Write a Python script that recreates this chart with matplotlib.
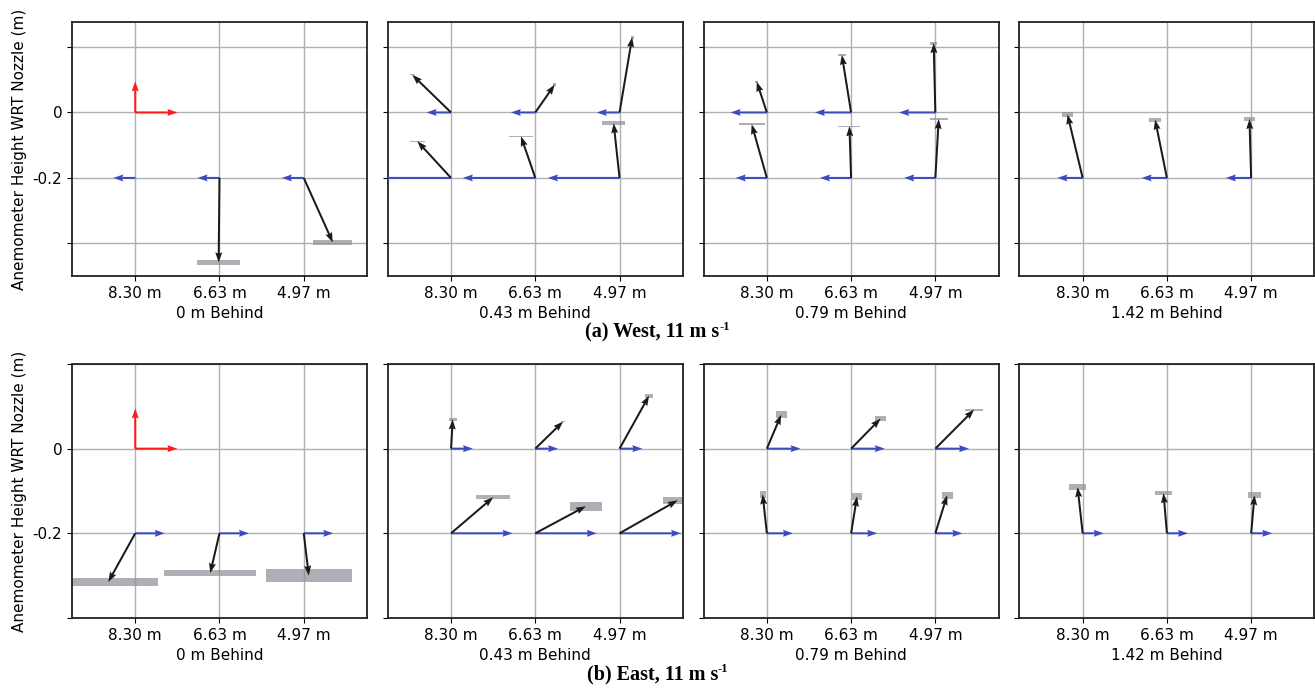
import matplotlib.pyplot as plt
import numpy as np
from matplotlib.patches import Rectangle

nan = np.nan

stations = [0, 1, 2]
station_labels = ['8.30 m', '6.63 m', '4.97 m']
behind_labels = ['0 m Behind', '0.43 m Behind', '0.79 m Behind', '1.42 m Behind']
heights = [0.0, -0.2]

# reference arrows (horizontal, vertical) drawn at the first station
ref_u, ref_w = 0.5, 0.095

# [panel][height][station]: streamwise component (blue)
west_u = [
    [[nan, nan, nan], [-0.26, -0.26, -0.26]],
    [[-0.29, -0.29, -0.27], [-0.85, -0.86, -0.85]],
    [[-0.43, -0.43, -0.43], [-0.37, -0.37, -0.37]],
    [[nan, nan, nan], [-0.30, -0.30, -0.30]],
]
# lateral/vertical vector (black)
west_vx = [
    [[nan, nan, nan], [nan, -0.01, 0.345]],
    [[-0.46, 0.23, 0.15], [-0.40, -0.17, -0.07]],
    [[-0.12, -0.11, -0.02], [-0.18, -0.02, 0.04]],
    [[nan, nan, nan], [-0.18, -0.14, -0.02]],
]
west_vy = [
    [[nan, nan, nan], [nan, -0.258, -0.197]],
    [[0.115, 0.085, 0.23], [0.112, 0.127, 0.167]],
    [[0.094, 0.176, 0.212], [0.164, 0.158, 0.18]],
    [[nan, nan, nan], [0.194, 0.178, 0.18]],
]
# spread boxes at the arrow tips (width, height)
west_ew = [
    [[nan, nan, nan], [nan, 0.51, 0.46]],
    [[0.06, 0.04, 0.04], [0.18, 0.29, 0.28]],
    [[0.04, 0.10, 0.09], [0.31, 0.26, 0.21]],
    [[nan, nan, nan], [0.14, 0.15, 0.13]],
]
west_eh = [
    [[nan, nan, nan], [nan, 0.015, 0.015]],
    [[0.004, 0.01, 0.01], [0.003, 0.005, 0.012]],
    [[0.005, 0.005, 0.009], [0.006, 0.003, 0.004]],
    [[nan, nan, nan], [0.015, 0.012, 0.012]],
]

east_u = [
    [[nan, nan, nan], [0.35, 0.35, 0.35]],
    [[0.26, 0.27, 0.27], [0.73, 0.73, 0.73]],
    [[0.40, 0.40, 0.40], [0.31, 0.31, 0.32]],
    [[nan, nan, nan], [0.25, 0.25, 0.25]],
]
east_vx = [
    [[nan, nan, nan], [-0.32, -0.11, 0.06]],
    [[0.02, 0.33, 0.35], [0.50, 0.60, 0.69]],
    [[0.17, 0.35, 0.46], [-0.05, 0.07, 0.14]],
    [[nan, nan, nan], [-0.06, -0.04, 0.04]],
]
east_vy = [
    [[nan, nan, nan], [-0.115, -0.094, -0.10]],
    [[0.069, 0.064, 0.125], [0.085, 0.064, 0.078]],
    [[0.08, 0.071, 0.092], [0.092, 0.087, 0.09]],
    [[nan, nan, nan], [0.109, 0.095, 0.09]],
]
east_ew = [
    [[nan, nan, nan], [1.19, 1.09, 1.02]],
    [[0.09, 0.05, 0.10], [0.40, 0.38, 0.36]],
    [[0.13, 0.13, 0.22], [0.07, 0.11, 0.13]],
    [[nan, nan, nan], [0.21, 0.20, 0.15]],
]
east_eh = [
    [[nan, nan, nan], [0.02, 0.016, 0.03]],
    [[0.008, 0.003, 0.01], [0.009, 0.022, 0.016]],
    [[0.016, 0.011, 0.005], [0.016, 0.018, 0.016]],
    [[nan, nan, nan], [0.013, 0.011, 0.015]],
]

BLUE = '#3b4cc0'
qkw = dict(angles='xy', scale_units='xy', scale=1, width=0.0068,
           headwidth=3.5, headlength=5, headaxislength=4.5, zorder=3)


def draw_panel(ax, u, vx, vy, ew, eh):
    for k, z in enumerate(heights):
        for i in stations:
            if not np.isnan(ew[k][i]):
                tx, ty = i + vx[k][i], z + vy[k][i]
                ax.add_patch(Rectangle((tx - ew[k][i] / 2, ty - eh[k][i] / 2),
                                       ew[k][i], eh[k][i], facecolor='#8e8e96',
                                       alpha=0.7, lw=0, zorder=2))
            if not np.isnan(u[k][i]):
                ax.quiver(i, z, u[k][i], 0, color=BLUE, **qkw)
            if not np.isnan(vx[k][i]):
                ax.quiver(i, z, vx[k][i], vy[k][i], color='#1a1a1a', **qkw)


def caption(y, text):
    # bold serif caption with a small "-1" superscript hung off its top right corner
    t = fig.text(0.496, y, text, family='Liberation Serif', weight='bold',
                 fontsize=14.5, ha='center', va='center')
    plt.annotate('-1', xy=(1, 0.78), xycoords=t, family='Liberation Serif',
                 weight='bold', fontsize=9, ha='left', va='center',
                 annotation_clip=False)


fig, axes = plt.subplots(2, 4, figsize=(13.15, 6.92), dpi=100)
fig.subplots_adjust(left=0.0548, right=0.9995, top=0.968, bottom=0.107,
                    wspace=0.071, hspace=0.346)

rows = [
    (west_u, west_vx, west_vy, west_ew, west_eh, (-0.5, 0.276)),
    (east_u, east_vx, east_vy, east_ew, east_eh, (-0.4, 0.2)),
]

for r, (u, vx, vy, ew, eh, ylim) in enumerate(rows):
    for p in range(4):
        ax = axes[r, p]
        draw_panel(ax, u[p], vx[p], vy[p], ew[p], eh[p])
        if p == 0:
            ax.quiver([0, 0], [0, 0], [ref_u, 0], [0, ref_w], color='#ff1a1a', **qkw)
        ax.set_xlim(-0.75, 2.75)
        ax.set_ylim(*ylim)
        ax.set_xticks(stations)
        ax.set_xticklabels(station_labels, fontsize=11)
        ax.set_yticks([-0.4, -0.2, 0.0, 0.2])
        if p == 0:
            ax.set_yticklabels(['', '-0.2', '0', ''], fontsize=11)
            ax.set_ylabel('Anemometer Height WRT Nozzle (m)', fontsize=11)
        else:
            ax.set_yticklabels([])
        ax.set_xlabel(behind_labels[p], fontsize=11, labelpad=4)
        ax.grid(True, color='#b0b0b0', lw=1)
        ax.set_axisbelow(True)
        for s in ax.spines.values():
            s.set_color('#222222')
            s.set_linewidth(1.3)

caption(0.519, '(a) West, 11 m s')
caption(0.025, '(b) East, 11 m s')

fig.savefig('out.png', dpi=100)
